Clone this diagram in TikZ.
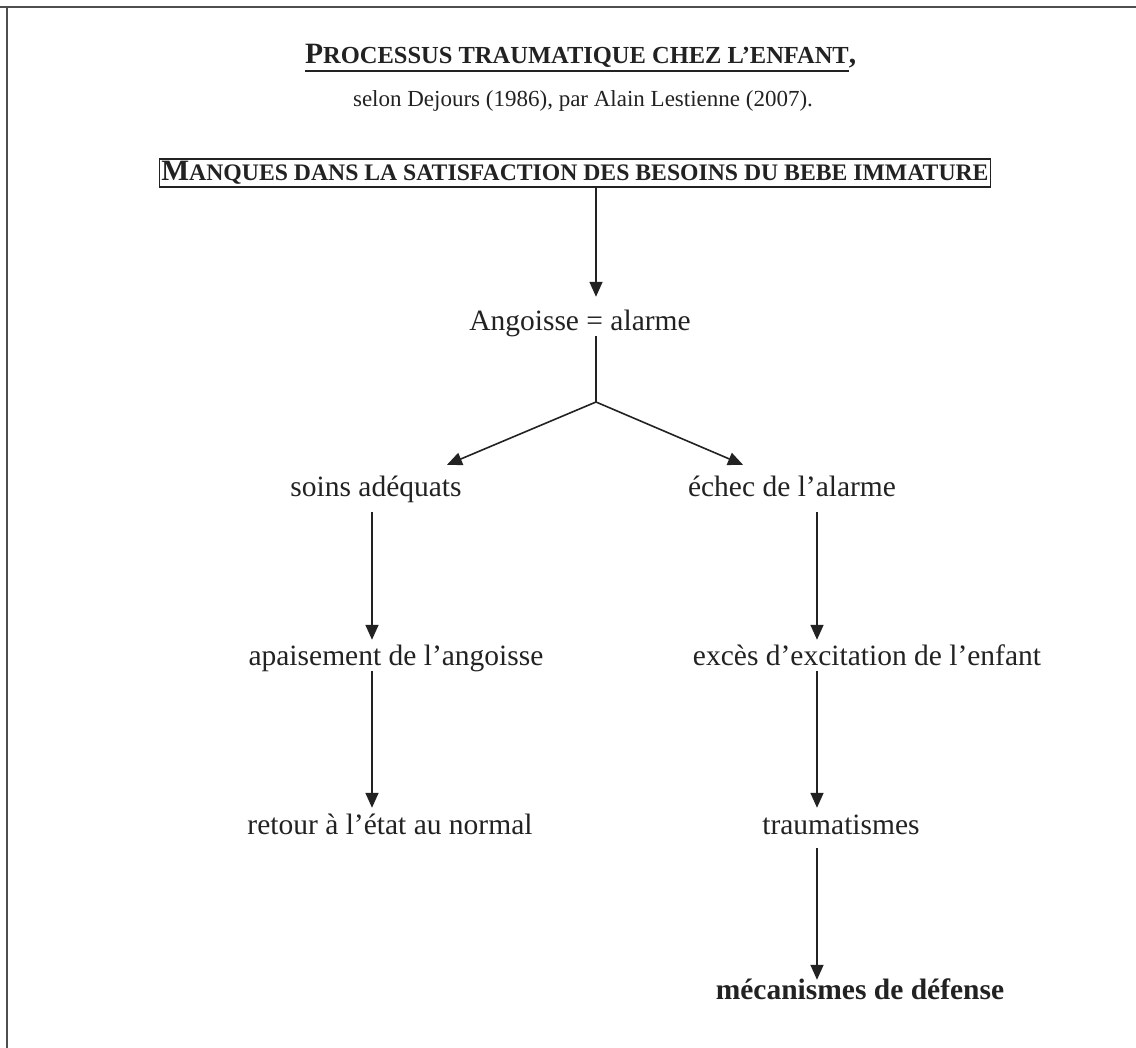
\documentclass[tikz,border=0pt]{standalone}
\usepackage{fontspec}
\setmainfont{Liberation Serif}
\usetikzlibrary{arrows.meta}
\definecolor{ink}{HTML}{222222}
% small-capital letters
\newcommand{\smc}[1]{{\fontsize{24.5}{26}\selectfont #1}}
\newcommand{\smb}[1]{{\fontsize{23.7}{26}\selectfont #1}}
\tikzset{
  lbl/.style={anchor=base, inner sep=0pt, text height=20pt, text depth=6pt,
    font=\fontsize{29.5}{34}\selectfont, text=ink},
  arr/.style={draw=ink, line width=1.6pt, -{Triangle[length=15pt,width=13pt]}},
  link/.style={draw=ink, line width=1.6pt},
  frame/.style={draw=ink!80, line width=2pt}
}
\begin{document}
\begin{tikzpicture}[x=1pt, y=-1pt]
\useasboundingbox (0,0) rectangle (1136,1048);
% page frame
\draw[frame] (0,7) -- (1136,7);
\draw[frame] (7,7) -- (7,1048);

% columns of the connectors
\coordinate (colM) at (596,0);
\coordinate (colL) at (372,0);
\coordinate (colR) at (817,0);
\coordinate (fork) at (596,402);

% heading
\node[lbl, font=\fontsize{29.5}{34}\selectfont\bfseries] (title) at (577,64)
  {P\smc{ROCESSUS TRAUMATIQUE CHEZ L’ENFANT}\rlap{,}};
\draw[ink, line width=2.2pt] ([yshift=-1pt]title.south west) -- ([yshift=-1pt]title.south east);
\node[lbl, font=\fontsize{23}{26}\selectfont] (sub) at (583,107)
  {selon Dejours (1986), par Alain Lestienne (2007).};

% boxed statement
\node[anchor=base, draw=ink, line width=1.2pt, inner xsep=2pt, inner ysep=0pt,
  text height=22pt, text depth=6pt, text=ink,
  font=\fontsize{29.5}{34}\selectfont\bfseries] (box) at (575,181)
  {M\smb{ANQUES DANS LA SATISFACTION DES BESOINS DU BEBE IMMATURE}};

% stages
\node[lbl] (ang) at (580,331) {Angoisse = alarme};
\node[lbl] (soins) at (376,497) {soins adéquats};
\node[lbl] (echec) at (792,497) {échec de l’alarme};
\node[lbl] (apais) at (396,665) {apaisement de l’angoisse};
\node[lbl] (exces) at (867,665) {excès d’excitation de l’enfant};
\node[lbl] (retour) at (390,834) {retour à l’état au normal};
\node[lbl] (trauma) at (841,834) {traumatismes};
\node[lbl, font=\fontsize{29.5}{34}\selectfont\bfseries] (meca) at (860,999) {mécanismes de défense};

% connectors
\draw[arr, shorten >=14pt] (box.south -| colM) -- (ang.north -| colM);
\draw[link, shorten <=-1pt] (ang.south -| colM) -- (fork);
\draw[arr] (fork) -- ([xshift=71pt, yshift=12pt]soins.north);
\draw[arr] (fork) -- ([xshift=-49pt, yshift=12pt]echec.north);
\draw[arr, shorten <=9pt, shorten >=5pt] (soins.south -| colL) -- (apais.north -| colL);
\draw[arr, shorten >=6pt] (apais.south -| colL) -- (retour.north -| colL);
\draw[arr, shorten <=9pt, shorten >=5pt] (echec.south -| colR) -- (exces.north -| colR);
\draw[arr, shorten >=6pt] (exces.south -| colR) -- (trauma.north -| colR);
\draw[arr, shorten <=8pt, shorten >=-1pt] (trauma.south -| colR) -- (meca.north -| colR);
\end{tikzpicture}
\end{document}
